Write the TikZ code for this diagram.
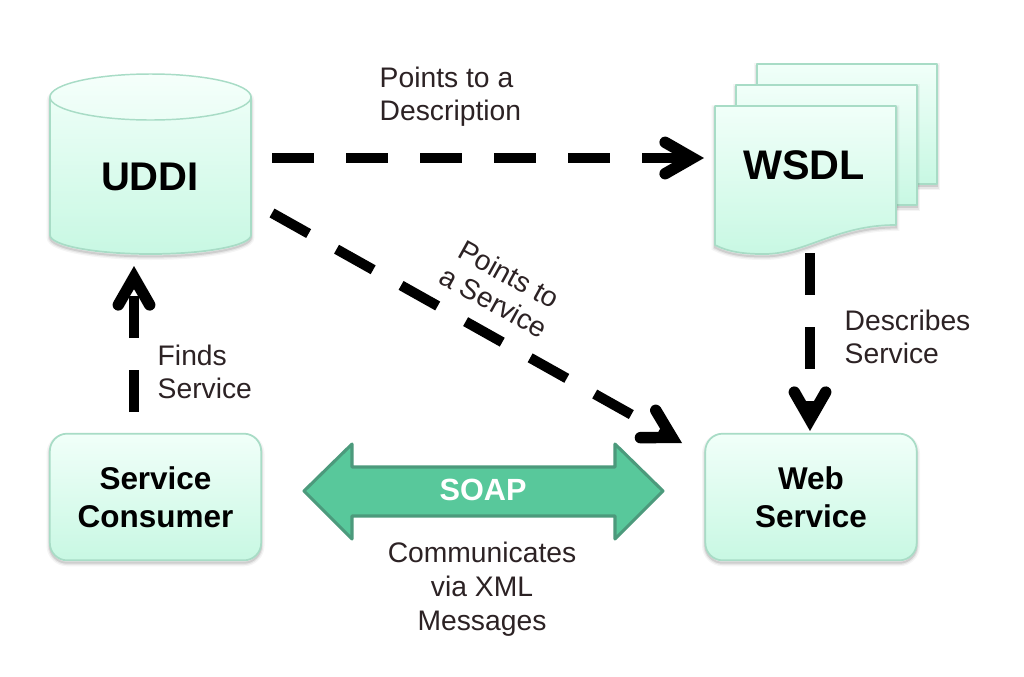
\documentclass[tikz,border=0pt]{standalone}
\usepackage{fontspec}
\setmainfont{Liberation Sans}
\usetikzlibrary{arrows.meta}
\definecolor{paleTop}{HTML}{F1FFF9}
\definecolor{paleBot}{HTML}{C8F8E3}
\definecolor{paleEdge}{HTML}{A8DCC6}
\definecolor{soapFill}{HTML}{58C89B}
\definecolor{soapEdge}{HTML}{4C9A7C}
\definecolor{labelInk}{HTML}{2C2224}
\tikzset{
  softshadow/.style={
    preaction={draw=black,opacity=.04,line width=5pt,transform canvas={yshift=-2pt}},
    preaction={draw=black,opacity=.06,line width=3pt,transform canvas={yshift=-2pt}},
    preaction={draw=black,opacity=.10,line width=1.5pt,transform canvas={yshift=-1.8pt}}},
  palebody/.style={draw=paleEdge,line width=1.3pt,top color=paleTop,bottom color=paleBot,line join=round},
  roundbox/.style={palebody,softshadow,rounded corners=13pt,minimum width=158.5pt,minimum height=95pt,
    align=center,font=\fontsize{23.6}{28.5}\selectfont\bfseries,text=black},
  bigtitle/.style={font=\fontsize{30}{36}\selectfont\bfseries,text=black},
  note/.style={font=\fontsize{21.2}{24.6}\selectfont,text=labelInk},
  dashlink/.style={line width=7.6pt,dash pattern=on 31.5pt off 24pt,
    -{Straight Barb[length=20.5pt,width=23.5pt,line width=8.6pt,line cap=round,line join=miter]}},
}
\begin{document}
\begin{tikzpicture}[x=.75pt,y=-.75pt]
\useasboundingbox (0,0) rectangle (1024,676);
\fill[white] (0,0) rectangle (1024,676);

% stacked pages behind the WSDL sheet
\path[palebody,softshadow] (757,64) rectangle (937,184);
\path[palebody,softshadow] (736,85) rectangle (917,205);
\path[palebody,softshadow] (715,106) -- (896,106) -- (896,225)
  .. controls (835,225) and (805,255) .. (762,254)
  .. controls (745,254) and (728,252) .. (715,245) -- cycle;
\node[font=\fontsize{31}{36}\selectfont\bfseries,text=black] (wsdl) at (804,165) {WSDL};

% UDDI database cylinder
\path[palebody,softshadow] (50,98) -- (50,235) arc[start angle=180,end angle=0,x radius=100.5,y radius=19]
  -- (251,98) arc[start angle=0,end angle=-180,x radius=100.5,y radius=23] -- cycle;
\path[draw=paleEdge,line width=1.1pt,top color=paleTop!70!white,bottom color=paleTop!85!paleBot]
  (150.5,97) ellipse[x radius=100.5,y radius=23];
\node[bigtitle] (uddi) at (150,177) {UDDI};

% endpoint boxes
\node[roundbox] (consumer) at (155.5,497) {Service\\Consumer};
\node[roundbox] (service) at (811,497) {Web\\Service};

% SOAP double arrow
\path[fill=soapFill,draw=soapEdge,line width=2.3pt,line join=round]
  (304,491) -- (352,444) -- (352,467) -- (615,467) -- (615,444) -- (663,491)
  -- (615,539) -- (615,516) -- (352,516) -- (352,539) -- cycle;
\node[font=\fontsize{23}{28}\selectfont\bfseries,text=white] (soap) at (483,490) {SOAP};

% connector end points
\coordinate (uddiEast) at (272,158);
\coordinate (wsdlWest) at (704,158);
\coordinate (uddiSouthEast) at (272,213);
\coordinate (serviceCorner) at (682,443);
\coordinate (wsdlSouth) at (810,253);
\coordinate (serviceNorth) at (810,431);
\coordinate (consumerNorth) at (134,412);
\coordinate (uddiSouth) at (134,266);

\draw[dashlink] (uddiEast) -- (wsdlWest);
\draw[dashlink] (uddiSouthEast) -- (serviceCorner);
\draw[dashlink] (wsdlSouth) -- (serviceNorth);
\draw[dashlink] (consumerNorth) -- (uddiSouth);

% labels
\node[note,align=left,anchor=west] (lblDesc) at (375,97) {Points to a\\Description};
\node[note,align=left,anchor=west] (lblFinds) at (153,372) {Finds\\Service};
\node[note,align=left,anchor=west] (lblDescribes) at (840,337) {Describes\\Service};
\node[note,align=center,rotate=-29,font=\fontsize{21.2}{23.8}\selectfont] (lblService) at (501.5,288) {Points to\\a Service};
\node[note,align=center,font=\fontsize{21.2}{25.5}\selectfont] (lblXml) at (482,589.5) {Communicates\\via XML\\Messages};
\end{tikzpicture}
\end{document}
